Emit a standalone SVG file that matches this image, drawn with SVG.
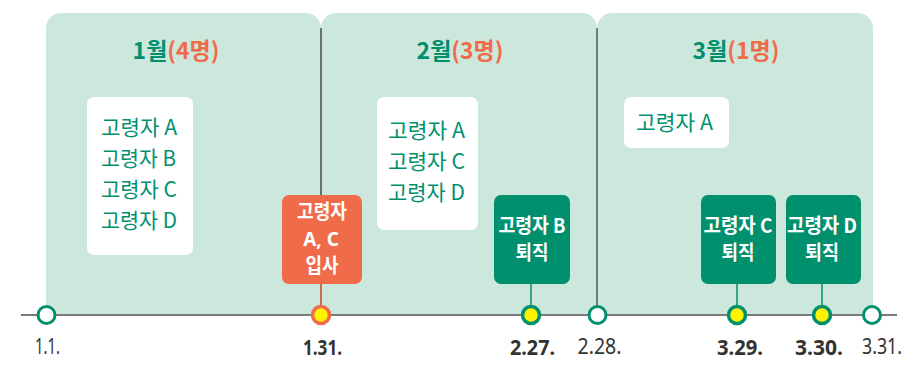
<svg xmlns="http://www.w3.org/2000/svg" width="924" height="366" viewBox="0 0 924 366">
<style>
.panel{fill:#cce8dc}
.title{font-family:"Noto Sans CJK KR","Noto Sans",sans-serif;font-weight:bold;font-size:23px;text-anchor:middle}
.g{fill:#00906e}
.o{fill:#f06b4a}
.list{fill:#fff}
.lt{font-family:"Noto Sans CJK KR",sans-serif;font-size:21px;fill:#00906e}
.ev{font-family:"Noto Sans CJK KR",sans-serif;font-weight:bold;font-size:20px;fill:#fff;text-anchor:middle}
.evl{font-family:"Noto Sans",sans-serif;font-size:19px}
.date{font-family:"Noto Sans","Noto Sans CJK KR",sans-serif;font-size:21px;fill:#333;text-anchor:middle}
.b{font-weight:bold}
.axis{stroke:#7a7a7a;stroke-width:2;fill:none}
.stemg{stroke:#00906e;stroke-width:1.5}
.stemo{stroke:#f06b4a;stroke-width:1.5}
.dotw{fill:#fff;stroke:#00906e;stroke-width:3}
.dotg{fill:#fff200;stroke:#00906e;stroke-width:3.5}
.doto{fill:#fff200;stroke:#f06b4a;stroke-width:3.5}
</style>
<g id="month-1">
<path class="panel" d="M46 315V28A15 15 0 0 1 61 13H306A15 15 0 0 1 321 28V315Z"/>
<text class="title" x="176" y="59"><tspan class="g">1월</tspan><tspan class="o">(4명)</tspan></text>
<rect class="list" x="87" y="97" width="106" height="158" rx="7"/>
<text class="lt" x="101" y="135" textLength="76" lengthAdjust="spacingAndGlyphs">고령자 A</text>
<text class="lt" x="101" y="166" textLength="75" lengthAdjust="spacingAndGlyphs">고령자 B</text>
<text class="lt" x="101" y="197" textLength="76" lengthAdjust="spacingAndGlyphs">고령자 C</text>
<text class="lt" x="101" y="228" textLength="76" lengthAdjust="spacingAndGlyphs">고령자 D</text>
</g>
<g id="month-2">
<path class="panel" d="M321 315V28A15 15 0 0 1 336 13H582A15 15 0 0 1 597 28V315Z"/>
<text class="title" x="460" y="59"><tspan class="g">2월</tspan><tspan class="o">(3명)</tspan></text>
<rect class="list" x="377" y="97" width="101" height="133" rx="7"/>
<text class="lt" x="388" y="138" textLength="77" lengthAdjust="spacingAndGlyphs">고령자 A</text>
<text class="lt" x="388" y="169" textLength="77" lengthAdjust="spacingAndGlyphs">고령자 C</text>
<text class="lt" x="388" y="200" textLength="77" lengthAdjust="spacingAndGlyphs">고령자 D</text>
</g>
<g id="month-3">
<path class="panel" d="M597 315V28A15 15 0 0 1 612 13H858A15 15 0 0 1 873 28V315Z"/>
<text class="title" x="736" y="59"><tspan class="g">3월</tspan><tspan class="o">(1명)</tspan></text>
<rect class="list" x="624" y="97" width="105" height="51" rx="7"/>
<text class="lt" x="636" y="130" textLength="77" lengthAdjust="spacingAndGlyphs">고령자 A</text>
</g>
<g id="connectors">
<line x1="321" y1="28" x2="321" y2="315" stroke="#222" stroke-width="1.2"/>
<line x1="597" y1="28" x2="597" y2="315" stroke="#6e6e6e" stroke-width="1.8"/>
<line class="axis" x1="21" y1="315" x2="897" y2="315"/>
<line class="stemo" x1="321" y1="284" x2="321" y2="306"/>
<line class="stemg" x1="531" y1="284" x2="531" y2="306"/>
<line class="stemg" x1="737" y1="284" x2="737" y2="306"/>
<line class="stemg" x1="822" y1="284" x2="822" y2="306"/>
</g>
<g id="event-hire-AC">
<rect x="282" y="195" width="80" height="89" rx="7" fill="#f06b4a"/>
<text class="ev" x="322" y="219" textLength="50" lengthAdjust="spacingAndGlyphs">고령자</text>
<text class="ev evl" x="321" y="246">A, C</text>
<text class="ev" x="322" y="272.5" textLength="33" lengthAdjust="spacingAndGlyphs">입사</text>
</g>
<g id="event-leave-B">
<rect x="494" y="195" width="76" height="89" rx="7" fill="#00906e"/>
<text class="ev" x="532" y="233" textLength="67" lengthAdjust="spacingAndGlyphs">고령자 B</text>
<text class="ev" x="532" y="260" textLength="33" lengthAdjust="spacingAndGlyphs">퇴직</text>
</g>
<g id="event-leave-C">
<rect x="701" y="195" width="75" height="89" rx="7" fill="#00906e"/>
<text class="ev" x="738" y="233" textLength="69" lengthAdjust="spacingAndGlyphs">고령자 C</text>
<text class="ev" x="738" y="260" textLength="33" lengthAdjust="spacingAndGlyphs">퇴직</text>
</g>
<g id="event-leave-D">
<rect x="786" y="195" width="75" height="89" rx="7" fill="#00906e"/>
<text class="ev" x="822" y="233" textLength="70" lengthAdjust="spacingAndGlyphs">고령자 D</text>
<text class="ev" x="822" y="260" textLength="34" lengthAdjust="spacingAndGlyphs">퇴직</text>
</g>
<g id="date-0101">
<circle class="dotw" cx="46.5" cy="315" r="8.5"/>
<text class="date" x="47.5" y="354" textLength="25" lengthAdjust="spacingAndGlyphs">1.1.</text>
</g>
<g id="date-0131">
<circle class="doto" cx="321" cy="315" r="8.5"/>
<text class="date b" x="322.5" y="355" textLength="39" lengthAdjust="spacingAndGlyphs">1.31.</text>
</g>
<g id="date-0227">
<circle class="dotg" cx="531" cy="315" r="8.5"/>
<text class="date b" x="532.5" y="355" textLength="45" lengthAdjust="spacingAndGlyphs">2.27.</text>
</g>
<g id="date-0228">
<circle class="dotw" cx="597.5" cy="315" r="8.5"/>
<text class="date" x="599.5" y="354" textLength="44" lengthAdjust="spacingAndGlyphs">2.28.</text>
</g>
<g id="date-0329">
<circle class="dotg" cx="737" cy="315" r="8.5"/>
<text class="date b" x="740" y="355" textLength="46" lengthAdjust="spacingAndGlyphs">3.29.</text>
</g>
<g id="date-0330">
<circle class="dotg" cx="822" cy="315" r="8.5"/>
<text class="date b" x="819" y="355" textLength="48" lengthAdjust="spacingAndGlyphs">3.30.</text>
</g>
<g id="date-0331">
<circle class="dotw" cx="872" cy="315" r="8.5"/>
<text class="date" x="882" y="354" textLength="40" lengthAdjust="spacingAndGlyphs">3.31.</text>
</g>
</svg>
